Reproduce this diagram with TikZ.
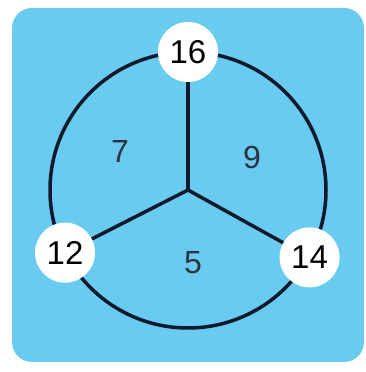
\documentclass[tikz,border=0pt]{standalone}
\usepackage{fontspec}
\setmainfont{Liberation Sans}
\usetikzlibrary{positioning, calc}
\definecolor{skyblue}{HTML}{6ACBF1}
\definecolor{rimnavy}{HTML}{101A2C}
\definecolor{digitgray}{HTML}{2B3440}

\begin{document}
\begin{tikzpicture}[
    x=1pt, y=1pt,
    vertex/.style={circle, fill=white, minimum size=60pt, inner sep=0pt, font=\fontsize{33}{33}\selectfont},
    region/.style={text=digitgray, font=\fontsize{32}{32}\selectfont},
    rim/.style={draw=rimnavy, line width=3.5pt}
]

\useasboundingbox (0,0) rectangle (366,372);
\fill[skyblue, rounded corners=20pt] (12,10) rectangle (364,364);

\coordinate (hub) at (188,182);
\draw[rim] (hub) circle (138pt);

\node[vertex] (top) at ($(hub)+(90:138)$) {16};
\node[vertex] (left) at ($(hub)+(207:138)$) {12};
\node[vertex] (right) at ($(hub)+(-29:139)$) {14};

\draw[rim] (hub) -- (top);
\draw[rim] (hub) -- (left);
\draw[rim] (hub) -- (right);

\node[region] (seven) at (120,221) {7};
\node[region] (nine) at (252,215) {9};
\node[region] (five) at (193,109) {5};

\end{tikzpicture}
\end{document}
